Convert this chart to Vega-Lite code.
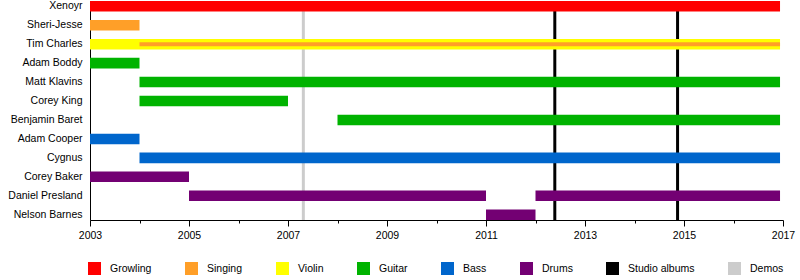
{
  "$schema": "https://vega.github.io/schema/vega-lite/v6.json",
  "width": 693,
  "height": 219,
  "autosize": {"type": "none"},
  "padding": {"left": 90, "top": 1, "right": 17, "bottom": 60},
  "config": {
    "view": {"stroke": null},
    "font": "Liberation Sans",
    "axis": {"labelFont": "Liberation Sans", "labelFontSize": 10.5, "labelColor": "#000000", "domainColor": "#000000", "tickColor": "#000000", "grid": false},
    "legend": {"labelFont": "Liberation Sans"}
  },
  "data": {
    "values": [
      {"kind": "event", "start": 2007.31, "type": "Demos"},
      {"kind": "event", "start": 2012.39, "type": "Studio albums"},
      {"kind": "event", "start": 2014.87, "type": "Studio albums"},
      {"kind": "bar", "member": "Xenoyr", "start": 2003, "end": 2016.94, "type": "Growling"},
      {"kind": "bar", "member": "Sheri-Jesse", "start": 2003, "end": 2004, "type": "Singing"},
      {"kind": "bar", "member": "Tim Charles", "start": 2003, "end": 2016.94, "type": "Violin"},
      {"kind": "thin", "member": "Tim Charles", "start": 2004, "end": 2016.94, "type": "Singing"},
      {"kind": "bar", "member": "Adam Boddy", "start": 2003, "end": 2004, "type": "Guitar"},
      {"kind": "bar", "member": "Matt Klavins", "start": 2004, "end": 2016.94, "type": "Guitar"},
      {"kind": "bar", "member": "Corey King", "start": 2004, "end": 2007, "type": "Guitar"},
      {"kind": "bar", "member": "Benjamin Baret", "start": 2008, "end": 2016.94, "type": "Guitar"},
      {"kind": "bar", "member": "Adam Cooper", "start": 2003, "end": 2004, "type": "Bass"},
      {"kind": "bar", "member": "Cygnus", "start": 2004, "end": 2016.94, "type": "Bass"},
      {"kind": "bar", "member": "Corey Baker", "start": 2003, "end": 2005, "type": "Drums"},
      {"kind": "bar", "member": "Daniel Presland", "start": 2005, "end": 2011, "type": "Drums"},
      {"kind": "bar", "member": "Daniel Presland", "start": 2012, "end": 2016.94, "type": "Drums"},
      {"kind": "bar", "member": "Nelson Barnes", "start": 2011, "end": 2012, "type": "Drums"}
    ]
  },
  "layer": [
    {
      "transform": [{"filter": "datum.kind == 'event'"}],
      "mark": {"type": "rule", "strokeWidth": 3},
      "encoding": {
        "x": {"field": "start", "type": "quantitative", "scale": {"domain": [2003, 2017], "nice": false, "zero": false},
          "axis": {"title": null, "values": [2003,2004,2005,2006,2007,2008,2009,2010,2011,2012,2013,2014,2015,2016,2017], "format": "d", "labelExpr": "datum.value % 2 == 1 ? datum.label : ''", "tickSize": {"condition": {"test": "datum.value % 2 == 1", "value": 6}, "value": 3}, "labelPadding": 4, "labelFlush": false, "labelOverlap": false}},
        "color": {"field": "type", "type": "nominal"}
      }
    },
    {
      "transform": [{"filter": "datum.kind == 'bar'"}],
      "mark": {"type": "bar"},
      "encoding": {
        "x": {"field": "start", "type": "quantitative", "scale": {"domain": [2003, 2017], "nice": false, "zero": false}},
        "x2": {"field": "end"},
        "y": {"field": "member", "type": "nominal", "sort": null,
          "scale": {"domain": ["Xenoyr","Sheri-Jesse","Tim Charles","Adam Boddy","Matt Klavins","Corey King","Benjamin Baret","Adam Cooper","Cygnus","Corey Baker","Daniel Presland","Nelson Barnes"], "paddingInner": 0.445, "paddingOuter": 0},
          "axis": {"title": null, "ticks": false, "labelPadding": 8}},
        "color": {"field": "type", "type": "nominal",
          "scale": {"domain": ["Growling","Singing","Violin","Guitar","Bass","Drums","Studio albums","Demos"], "range": ["#ff0000","#ff9f28","#ffff00","#00b300","#0066cc","#730073","#000000","#cccccc"]},
          "legend": {"orient": "none", "legendX": -2, "legendY": 261, "direction": "horizontal", "title": null, "symbolType": "square", "symbolSize": 169, "symbolStrokeWidth": 0, "symbolOpacity": 1, "labelFontSize": 10.5, "labelColor": "#000000", "labelOffset": 9, "columnPadding": 33, "padding": 0, "labelLimit": 200}}
      }
    },
    {
      "transform": [{"filter": "datum.kind == 'thin'"}],
      "mark": {"type": "bar", "height": {"band": 0.38}},
      "encoding": {
        "x": {"field": "start", "type": "quantitative"},
        "x2": {"field": "end"},
        "y": {"field": "member", "type": "nominal", "sort": null},
        "color": {"field": "type", "type": "nominal"}
      }
    }
  ]
}
